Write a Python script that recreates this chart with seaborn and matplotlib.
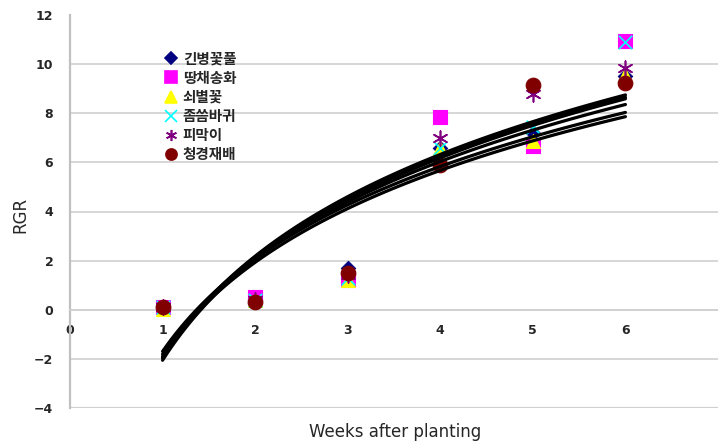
import numpy as np
import pandas as pd
import matplotlib
matplotlib.use("Agg")
import matplotlib.pyplot as plt
from matplotlib.lines import Line2D
import seaborn as sns

sns.set_theme(style="white")
plt.rcParams["font.family"] = ["DejaVu Sans"]

# Weeks after planting and relative growth rate per species
weeks = [1, 2, 3, 4, 5, 6]
species = ["긴병꽃풀", "땅채송화", "쇠별꽃", "좀씀바귀", "피막이", "청경재배"]
rgr_gin = [0.1, 0.45, 1.7, 6.6, 7.2, 9.5]
rgr_ttang = [0.1, 0.5, 1.2, 7.85, 6.65, 10.95]
rgr_soe = [0.05, 0.4, 1.2, 6.6, 6.85, 9.55]
rgr_jom = [0.1, 0.4, 1.3, 6.6, 7.45, 10.9]
rgr_pi = [0.1, 0.4, 1.4, 7.0, 8.8, 9.85]
rgr_cheong = [0.12, 0.33, 1.5, 5.9, 9.15, 9.25]
series = [rgr_gin, rgr_ttang, rgr_soe, rgr_jom, rgr_pi, rgr_cheong]

colors = ["#000080", "#FF00FF", "#FFFF00", "#00FFFF", "#800080", "#800000"]
markers = ["D", "s", "^", "x", (6, 2, 0), "o"]
sizes = [55, 100, 100, 95, 110, 110]

fig = plt.figure(figsize=(7.18, 4.43), dpi=100)
ax = fig.add_axes([70 / 718, 35 / 443, 648 / 718, 393 / 443])

for name, vals, c, m, s in zip(species, series, colors, markers, sizes):
    df = pd.DataFrame({"week": weeks, "rgr": vals})
    filled = m not in ("x", (6, 2, 0))
    kw = dict(edgecolor=c) if filled else dict(linewidths=1.2)
    sns.scatterplot(data=df, x="week", y="rgr", color=c, marker=m, s=s,
                    ax=ax, zorder=3, **kw)

# Logarithmic trend line for each species
for vals in series:
    df = pd.DataFrame({"week": weeks, "rgr": vals})
    sns.regplot(data=df, x="week", y="rgr", logx=True, scatter=False, ci=None,
                ax=ax, line_kws=dict(color="black", lw=2.3, zorder=4,
                                     solid_capstyle="round"))

ax.set_xlim(0, 7)
ax.set_ylim(-4, 12)
ax.set_xticks(range(0, 7))
ax.set_yticks(range(-4, 13, 2))
ax.set_yticklabels(["\u22124", "\u22122", "0", "2", "4", "6", "8", "10", "12"])

grid_c = "#d0d0d0"
for yv in range(-2, 11, 2):
    ax.axhline(yv, color=grid_c, lw=1.2, zorder=0)
ax.axhline(-4, color=grid_c, lw=1.6, zorder=0)

for side in ["top", "right"]:
    ax.spines[side].set_visible(False)
ax.spines["left"].set_color("#c0c0c0")
ax.spines["left"].set_linewidth(1.6)
ax.spines["bottom"].set_position(("data", 0))
ax.spines["bottom"].set_color(grid_c)
ax.spines["bottom"].set_linewidth(1.2)

ax.tick_params(axis="x", direction="in", length=4, color="#b0b0b0",
               pad=10, labelsize=9)
ax.tick_params(axis="y", direction="in", length=4, color="#b0b0b0",
               pad=12, labelsize=9)
for lab in ax.get_xticklabels() + ax.get_yticklabels():
    lab.set_fontweight("bold")
ax.set_xlabel("")
ax.set_ylabel("")

fig.text(395 / 718, 1 - 432 / 443, "Weeks after planting",
         ha="center", va="center", fontsize=12)
fig.text(20 / 718, 1 - 215 / 443, "RGR", rotation=90, ha="center",
         va="center", fontsize=12)

handles = []
for name, c, m in zip(species, colors, markers):
    filled = m not in ("x", (6, 2, 0))
    handles.append(Line2D([], [], ls="none", marker=m, color=c,
                          markerfacecolor=c if filled else "none",
                          markeredgecolor=c, markersize=8 if m != "D" else 6.5,
                          markeredgewidth=1.2, label=name))
leg = ax.legend(handles=handles, loc="upper left",
                bbox_to_anchor=(158 / 718, 1 - 43 / 443),
                bbox_transform=fig.transFigure, frameon=False,
                handlelength=0.8, handletextpad=0.4, labelspacing=0.22,
                borderpad=0, prop=dict(family="Noto Sans CJK KR",
                                       weight="bold", size=10.5))

fig.savefig("out.png", dpi=100)
